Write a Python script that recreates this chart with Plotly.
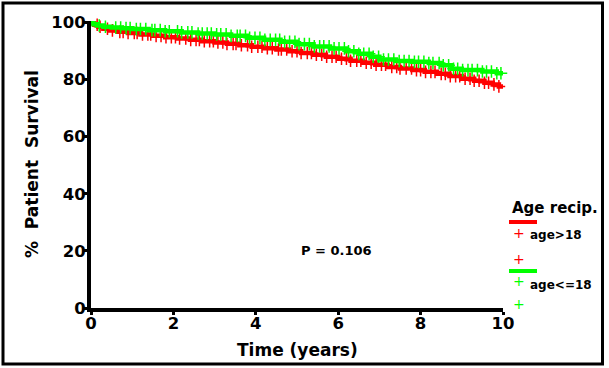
import bisect
import plotly.graph_objects as go

# ---- data ----
red_name = "age>18"
green_name = "age<=18"
legend_title = "Age recip."
p_text = "P = 0.106"
x_ticks = [0, 2, 4, 6, 8, 10]
y_ticks = [0, 20, 40, 60, 80, 100]

red_time = [0, 0.08, 0.18, 0.3, 0.45, 0.65, 0.9, 1.2, 1.5, 1.8, 2.1, 2.4, 2.7, 3.0, 3.3, 3.6, 3.9,
            4.2, 4.5, 4.8, 5.1, 5.4, 5.7, 6.0, 6.3, 6.6, 6.9, 7.2, 7.5, 7.8, 8.1, 8.4, 8.7, 9.0,
            9.3, 9.55, 9.75, 9.9, 10.05]
red_surv = [100, 99.2, 98.5, 97.8, 97.2, 96.7, 96.3, 95.8, 95.3, 94.8, 94.4, 93.9, 93.4, 93.0, 92.5,
            92.0, 91.5, 91.0, 90.5, 89.9, 89.3, 88.7, 88.0, 87.3, 86.6, 85.9, 85.2, 84.4, 83.9, 83.3,
            82.7, 82.0, 81.2, 80.3, 79.6, 78.9, 78.3, 77.6, 77.3]

green_time = [0, 0.06, 0.15, 0.3, 0.5, 0.75, 1.0, 1.4, 1.8, 2.2, 2.6, 3.0, 3.4, 3.8, 4.2, 4.6, 5.0,
              5.4, 5.8, 6.2, 6.5, 6.8, 7.0, 7.4, 7.8, 8.2, 8.5, 8.75, 9.0, 9.5, 9.85, 10.05]
green_surv = [100, 99.4, 98.9, 98.5, 98.2, 98.0, 97.7, 97.3, 96.9, 96.5, 96.1, 95.8, 95.3, 94.6, 93.9,
              93.2, 92.4, 91.6, 90.9, 89.9, 89.0, 88.0, 87.0, 86.5, 86.2, 85.8, 85.0, 83.8, 83.3,
              82.8, 82.2, 81.6]

red_censor = [0.15, 0.22, 0.4, 0.52, 0.7, 0.78, 0.9, 1.05, 1.12, 1.25, 1.38, 1.45, 1.58, 1.7, 1.82,
              1.95, 2.05, 2.15, 2.3, 2.42, 2.55, 2.63, 2.75, 2.88, 2.97, 3.08, 3.2, 3.3, 3.45, 3.52,
              3.65, 3.8, 3.9, 4.05, 4.15, 4.28, 4.4, 4.55, 4.62, 4.75, 4.88, 5.0, 5.1, 5.25, 5.35,
              5.47, 5.6, 5.72, 5.85, 5.95, 6.08, 6.2, 6.3, 6.45, 6.55, 6.68, 6.8, 6.92, 7.05, 7.15,
              7.3, 7.42, 7.5, 7.65, 7.78, 7.9, 8.0, 8.12, 8.25, 8.35, 8.5, 8.6, 8.72, 8.85, 8.95,
              9.08, 9.2, 9.3, 9.42, 9.55, 9.65, 9.78, 9.9]
green_censor = [0.2, 0.35, 0.6, 0.72, 0.85, 0.95, 1.1, 1.2, 1.33, 1.48, 1.55, 1.68, 1.8, 1.9, 2.1,
                2.2, 2.35, 2.45, 2.6, 2.7, 2.82, 2.92, 3.05, 3.15, 3.28, 3.4, 3.55, 3.62, 3.75, 3.85,
                3.98, 4.1, 4.22, 4.35, 4.48, 4.58, 4.7, 4.82, 4.95, 5.05, 5.18, 5.3, 5.42, 5.55, 5.65,
                5.78, 5.9, 6.02, 6.15, 6.25, 6.38, 6.5, 6.62, 6.75, 6.85, 6.98, 7.1, 7.22, 7.35, 7.48,
                7.6, 7.72, 7.85, 7.95, 8.08, 8.2, 8.3, 8.45, 8.55, 8.68, 8.8, 8.9, 9.02, 9.15, 9.25,
                9.38, 9.5, 9.6, 9.72, 9.85, 9.95]

RED = "#FF0000"
GREEN = "#00FF00"
FONT = "DejaVu Sans"


def step_value(times, surv, t):
    i = bisect.bisect_right(times, t) - 1
    return surv[max(i, 0)]


fig = go.Figure()
for times, surv, cens, col, name in [
    (red_time, red_surv, red_censor, RED, red_name),
    (green_time, green_surv, green_censor, GREEN, green_name),
]:
    fig.add_trace(go.Scatter(x=times, y=surv, mode="lines", line=dict(color=col, width=4.5, shape="hv"),
                             showlegend=False, name=name))
    fig.add_trace(go.Scatter(x=cens, y=[step_value(times, surv, t) for t in cens], mode="markers",
                             marker=dict(symbol="cross-thin", size=9, line=dict(color=col, width=1.5)),
                             showlegend=False, cliponaxis=False, name=name))

# layout geometry (pixels)
W, H = 609, 368
L, R, T, B = 91, 503, 21, 308


def xp(px):
    return (px - L) / (R - L)


def yp(py):
    return (B - py) / (B - T)


bold = dict(family=FONT, color="black", weight="bold")


def note(px, py, text, size, xanchor="center", **kw):
    return dict(x=xp(px), y=yp(py), xref="paper", yref="paper", text=text, showarrow=False,
                xanchor=xanchor, yanchor="middle", font=dict(bold, size=size), **kw)


annotations = [
    dict(x=5.95, y=20.2, xref="x", yref="y", text=p_text, showarrow=False, xanchor="center",
         yanchor="middle", font=dict(bold, size=13)),
    note(297, 350, "Time (years)", 17),
    note(32, 164, "%  Patient  Survival", 17, textangle=-90),
    note(510, 208, legend_title, 15, xanchor="left"),
    note(528, 235, red_name, 12, xanchor="left"),
    note(528, 285, green_name, 12, xanchor="left"),
]
for py, col in [(233, RED), (259, RED), (281, GREEN), (304, GREEN)]:
    annotations.append(dict(x=xp(519), y=yp(py), xref="paper", yref="paper", text="+", showarrow=False,
                            xanchor="center", yanchor="middle",
                            font=dict(family=FONT, size=14, color=col)))

shapes = [
    dict(type="rect", xref="paper", yref="paper", x0=xp(3), x1=xp(602.5), y0=yp(3), y1=yp(364),
         line=dict(color="black", width=3)),
    dict(type="line", xref="paper", yref="paper", x0=xp(509), x1=xp(537), y0=yp(222), y1=yp(222),
         line=dict(color=RED, width=4)),
    dict(type="line", xref="paper", yref="paper", x0=xp(509), x1=xp(537), y0=yp(271), y1=yp(271),
         line=dict(color=GREEN, width=4)),
]

fig.update_layout(
    width=W, height=H,
    margin=dict(l=L, r=W - R, t=T, b=H - B, pad=0),
    paper_bgcolor="white", plot_bgcolor="white",
    showlegend=False,
    annotations=annotations,
    shapes=shapes,
    xaxis=dict(range=[0, 10], tickvals=x_ticks, showgrid=False, zeroline=False,
               showline=True, linecolor="black", linewidth=4, ticks="outside", ticklen=3,
               tickwidth=3, tickcolor="black", tickfont=dict(bold, size=16.5),
               ticklabelstandoff=-6),
    yaxis=dict(range=[0, 100.5], tickvals=y_ticks, showgrid=False, zeroline=False,
               showline=True, linecolor="black", linewidth=4, ticks="outside", ticklen=3,
               tickwidth=3, tickcolor="black", tickfont=dict(bold, size=16.5),
               ticklabelstandoff=-5),
)

fig.write_html("out.html", config={"displayModeBar": False},
               post_script="document.body.style.margin='0';document.body.style.overflow='hidden';")
